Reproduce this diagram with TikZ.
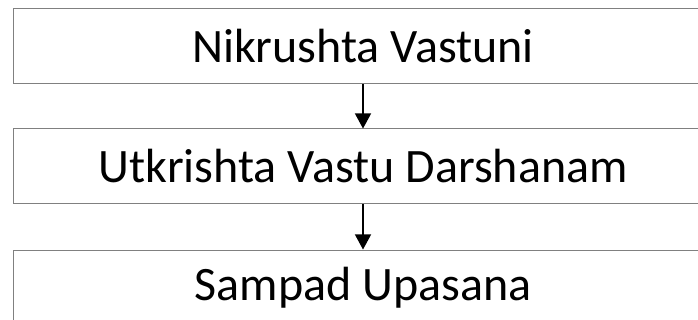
\documentclass[tikz,border=0pt]{standalone}
\usepackage{fontspec}
\setmainfont{Carlito}
\usetikzlibrary{arrows.meta}
\begin{document}
\begin{tikzpicture}[x=1pt,y=-1pt,
  stagebox/.style={draw=black!50,line width=1pt,minimum width=700pt,minimum height=75pt,inner sep=0pt,font=\fontsize{48}{58}\selectfont,text=black},
  flowarrow/.style={draw=black,line width=1.2pt,-{Triangle[length=15pt,width=16pt]}}]
\useasboundingbox (0,0) rectangle (698,320);
\clip (0,0) rectangle (698,320);
\fill[white] (0,0) rectangle (698,320);
\node[stagebox] (a) at (363,46.5) {Nikrushta Vastuni};
\node[stagebox] (b) at (363,166.5) {Utkrishta Vastu Darshanam};
\node[stagebox] (c) at (363,287.5) {Sampad Upasana};
\draw[flowarrow] (a) -- (b);
\draw[flowarrow] (b) -- (c);
\end{tikzpicture}
\end{document}
